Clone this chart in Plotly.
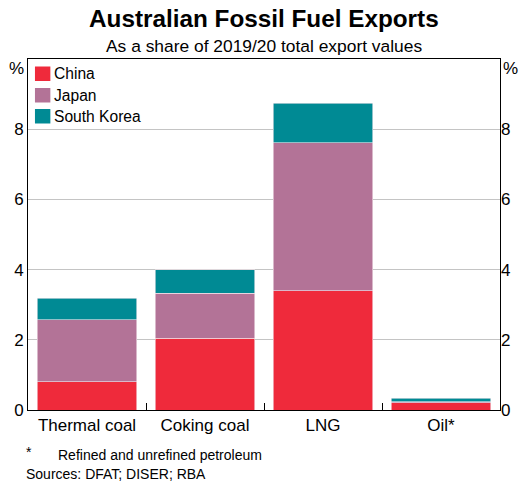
import plotly.graph_objects as go

categories = ["Thermal coal", "Coking coal", "LNG", "Oil*"]
china = [0.80, 2.05, 3.40, 0.21]
japan = [1.77, 1.27, 4.22, 0.02]
south_korea = [0.62, 0.67, 1.12, 0.10]

series = [("China", china, "#EF2A3B"),
          ("Japan", japan, "#B37397"),
          ("South Korea", south_korea, "#008A94")]

W, H = 522, 484
l, r, t, b = 28, 19, 59, 74
pw, ph = W - l - r, H - t - b


def px_to_paper(x, y):
    return (x - l) / pw, (H - b - y) / ph


fig = go.Figure()
for name, vals, col in series:
    fig.add_trace(go.Bar(x=categories, y=vals, name=name, showlegend=False,
                         marker=dict(color=col, line=dict(width=0.6, color="#F2E6EC"))))
# invisible trace for right axis
fig.add_trace(go.Scatter(x=categories, y=[0, 0, 0, 0], yaxis="y2", mode="lines",
                         line=dict(width=0), showlegend=False, hoverinfo="skip"))

tickvals = [0, 2, 4, 6, 8]
ticktext = ["0", "2", "4", "6", "8"]

fig.update_layout(
    width=W, height=H,
    margin=dict(l=l, r=r, t=t, b=b),
    paper_bgcolor="white", plot_bgcolor="white",
    barmode="stack", bargap=0.155,
    font=dict(family="Arial, Liberation Sans, sans-serif", size=17, color="black"),
    showlegend=False,
    xaxis=dict(showline=True, linecolor="black", linewidth=1, mirror=True,
               ticks="inside", ticklen=7, tickcolor="black", tickson="boundaries",
               tickfont=dict(size=17), showgrid=False),
    yaxis=dict(range=[0, 10], tickvals=tickvals, ticktext=ticktext,
               showline=True, linecolor="black", linewidth=1, mirror=True,
               showgrid=True, gridcolor="#C4C4C4", gridwidth=1, ticks="",
               tickfont=dict(size=17), zeroline=False),
    yaxis2=dict(range=[0, 10], tickvals=tickvals, ticktext=ticktext,
                overlaying="y", side="right", showgrid=False, ticks="",
                tickfont=dict(size=17), zeroline=False, showline=False),
)

# manual legend
leg_rows = [74, 95.5, 116.5]
for (name, vals, col), yc in zip(series, leg_rows):
    x0, y0 = px_to_paper(35, yc - 7.5)
    x1, y1 = px_to_paper(50.5, yc + 7)
    fig.add_shape(type="rect", xref="paper", yref="paper", x0=x0, x1=x1, y0=y0, y1=y1,
                  fillcolor=col, line=dict(width=0))
    xt, yt = px_to_paper(52.5, yc)
    fig.add_annotation(text=name, x=xt, y=yt, xref="paper", yref="paper", showarrow=False,
                       font=dict(size=15.6), xanchor="left", yanchor="middle")

for text, x, y, size, xa in [
    ("<b>Australian Fossil Fuel Exports</b>", 266, 18, 24.3, "center"),
    ("As a share of 2019/20 total export values", 265, 46, 17.4, "center"),
    ("%", 16.5, 68, 17, "center"),
    ("%", 514, 68, 17, "center"),
    ("*", 24, 452, 14, "left"),
    ("Refined and unrefined petroleum", 56, 455, 14, "left"),
    ("Sources: DFAT; DISER; RBA", 24, 474, 14, "left"),
]:
    xp, yp = px_to_paper(x, y)
    fig.add_annotation(text=text, x=xp, y=yp, xref="paper", yref="paper", showarrow=False,
                       font=dict(size=size), xanchor=xa, yanchor="middle")

fig.write_html("out.html")
